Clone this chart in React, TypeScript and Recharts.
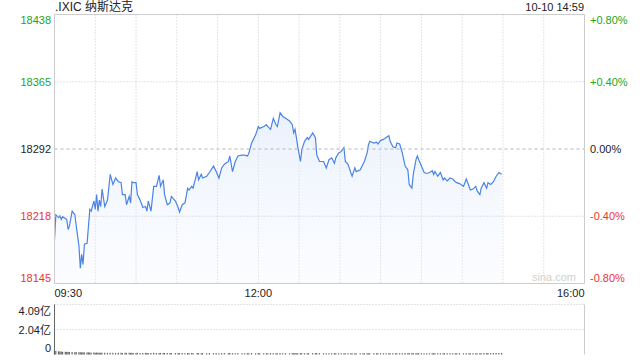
import React from 'react';
import {
  ComposedChart, Area, XAxis, YAxis, CartesianGrid, ReferenceLine,
  BarChart, Bar,
} from 'recharts';

// minutes after 09:30
const TIMES = [
  0, 1, 3, 4, 5, 6, 8, 9, 10, 11, 13, 15, 16, 18, 19, 20, 21, 22, 24, 25,
  26, 27, 29, 30, 31, 32, 33, 34, 35, 37, 39, 41, 43, 45, 47, 49, 50, 52, 53, 55,
  56, 57, 58, 60, 61, 63, 65, 67, 68, 69, 71, 73, 75, 77, 78, 80, 81, 83, 85, 86,
  89, 91, 92, 94, 96, 98, 99, 101, 102, 105, 106, 108, 109, 112, 114, 117, 119, 121, 123, 125,
  128, 129, 131, 133, 135, 138, 140, 142, 143, 145, 148, 150, 151, 154, 156, 157, 159, 161, 163, 164,
  166, 168, 170, 173, 175, 176, 177, 178, 179, 181, 182, 184, 186, 187, 190, 192, 193, 195, 198, 200,
  202, 204, 206, 207, 209, 211, 213, 214, 216, 218, 219, 221, 222, 225, 227, 228, 230, 231, 232, 235,
  237, 238, 240, 242, 244, 246, 247, 249, 251, 252, 254, 256, 258, 260, 261, 263, 264, 266, 267, 268,
  270, 272, 274, 276, 278, 279, 280, 282, 284, 286, 287, 289, 291, 293, 295, 296, 298, 301, 303, 305,
  306, 308, 310, 311, 313, 314, 316, 318, 319, 321, 323, 325, 327, 329,
];

const PRICES = [
  18193, 18220, 18217, 18219, 18215, 18218, 18216, 18215, 18204, 18208, 18224, 18220, 18208, 18186, 18162, 18177, 18166, 18188, 18189, 18208,
  18226, 18224, 18235, 18226, 18242, 18224, 18236, 18229, 18248, 18229, 18236, 18264, 18253, 18260, 18256, 18255, 18242, 18242, 18231, 18240,
  18233, 18256, 18255, 18255, 18242, 18236, 18228, 18229, 18224, 18235, 18224, 18251, 18251, 18263, 18251, 18258, 18242, 18231, 18233, 18240,
  18235, 18228, 18223, 18231, 18233, 18249, 18247, 18251, 18249, 18267, 18258, 18264, 18260, 18262, 18266, 18273, 18267, 18260, 18271, 18275,
  18278, 18284, 18267, 18278, 18284, 18285, 18285, 18284, 18287, 18298, 18307, 18316, 18314, 18316, 18318, 18316, 18313, 18325, 18318, 18316,
  18331, 18327, 18325, 18322, 18318, 18309, 18313, 18304, 18294, 18278, 18291, 18300, 18304, 18302, 18309, 18304, 18285, 18278, 18278, 18271,
  18280, 18282, 18276, 18282, 18287, 18289, 18293, 18278, 18275, 18266, 18262, 18271, 18267, 18269, 18275, 18278, 18287, 18296, 18300, 18298,
  18299, 18297, 18301, 18302, 18304, 18306, 18300, 18294, 18293, 18298, 18297, 18287, 18273, 18269, 18253, 18249, 18264, 18280, 18284, 18280,
  18273, 18266, 18265, 18266, 18268, 18264, 18267, 18262, 18266, 18258, 18260, 18257, 18260, 18259, 18256, 18255, 18254, 18251, 18259, 18251,
  18247, 18248, 18251, 18246, 18242, 18249, 18255, 18249, 18255, 18253, 18256, 18262, 18266, 18264,
];

// 亿
const VOLUMES = [
  0.36, 0.28, 0.26, 0.24, 0.25, 0.22, 0.23, 0.21, 0.22, 0.2, 0.21, 0.19, 0.2, 0.18, 0.19, 0.17, 0.18, 0.17, 0.16, 0.17,
  0.16, 0.15, 0.16, 0.15, 0.16, 0.15, 0.14, 0.15, 0.14, 0.15, 0.14, 0.15, 0.14, 0.13, 0.14, 0.14, 0.13, 0.14, 0.13, 0.14,
  0.13, 0.14, 0.13, 0.13, 0.14, 0.13, 0.12, 0.13, 0.13, 0.12, 0.13, 0.14, 0.13, 0.12, 0.13, 0.12, 0.13, 0.12, 0.12, 0.13,
  0.12, 0.13, 0.12, 0.12, 0.11, 0.12, 0.13, 0.12, 0.11, 0.12, 0.12, 0.11, 0.12, 0.11, 0.12, 0.11, 0.12, 0.11, 0.11, 0.12,
  0.11, 0.12, 0.11, 0.11, 0.12, 0.11, 0.1, 0.11, 0.11, 0.12, 0.11, 0.12, 0.11, 0.11, 0.1, 0.11, 0.12, 0.11, 0.11, 0.1,
  0.12, 0.11, 0.11, 0.1, 0.11, 0.11, 0.12, 0.11, 0.1, 0.12, 0.11, 0.1, 0.11, 0.11, 0.1, 0.11, 0.12, 0.11, 0.1, 0.11,
  0.1, 0.11, 0.1, 0.11, 0.1, 0.11, 0.1, 0.11, 0.1, 0.11, 0.11, 0.1, 0.11, 0.1, 0.1, 0.11, 0.1, 0.11, 0.1, 0.1,
  0.11, 0.1, 0.1, 0.11, 0.1, 0.1, 0.11, 0.1, 0.1, 0.11, 0.1, 0.11, 0.12, 0.11, 0.12, 0.11, 0.12, 0.11, 0.1, 0.11,
  0.1, 0.11, 0.1, 0.1, 0.11, 0.1, 0.1, 0.11, 0.1, 0.1, 0.11, 0.1, 0.1, 0.11, 0.1, 0.1, 0.11, 0.1, 0.11, 0.1,
  0.11, 0.1, 0.11, 0.1, 0.11, 0.11, 0.12, 0.11, 0.12, 0.11, 0.12, 0.12, 0.13, 0.13,
];

const PREV_CLOSE = 18291.6;
const PCTS = [0.008, 0.004, 0, -0.004, -0.008];
const PRICE_LABELS = ['18438', '18365', '18292', '18218', '18145'];
const PCT_LABELS = ['+0.80%', '+0.40%', '0.00%', '-0.40%', '-0.80%'];

const X_TICKS = [0, 30, 60, 90, 120, 150, 180, 210, 240, 270, 300, 330, 360, 390];
const X_LABELS: Record<number, string> = { 0: '09:30', 150: '12:00', 390: '16:00' };

const VOL_MAX = 4.09;
const VOL_TICKS = [0, 2.04, 4.09];
const VOL_LABELS = ['0', '2.04亿', '4.09亿'];

const TITLE = '.IXIC 纳斯达克';
const STAMP = '10-10 14:59';

const UP = '#22a622';
const DOWN = '#f03232';
const FONT = '"Liberation Sans", Arial, "Noto Sans CJK SC", sans-serif';

const Y_TICKS = PCTS.map((p) => PREV_CLOSE * (1 + p));
const Y_MIN = PREV_CLOSE * (1 - 0.008);
const Y_MAX = PREV_CLOSE * (1 + 0.008);

const data = TIMES.map((t, i) => ({ t, price: PRICES[i], vol: VOLUMES[i] }));

const pctColor = (p: number) => (p > 0 ? UP : p < 0 ? DOWN : '#222');

const PriceTick = (props: any) => {
  const { y, payload } = props;
  const i = Y_TICKS.findIndex((v) => Math.abs(v - payload.value) < 0.01);
  if (i < 0) return null;
  const shift = i === 0 ? 6 : i === PCTS.length - 1 ? -5 : 0;
  const color = pctColor(PCTS[i]);
  return (
    <g>
      <text x={51} y={y + shift} dy="0.35em" textAnchor="end" fill={color} fontSize={11} fontFamily={FONT}>
        {PRICE_LABELS[i]}
      </text>
      <text x={590} y={y + shift} dy="0.35em" textAnchor="start" fill={color} fontSize={11} fontFamily={FONT}>
        {PCT_LABELS[i]}
      </text>
    </g>
  );
};

const TimeTick = (props: any) => {
  const { x, payload } = props;
  const label = X_LABELS[payload.value];
  if (!label) return null;
  const anchor = payload.value === 0 ? 'start' : payload.value === 390 ? 'end' : 'middle';
  return (
    <text x={x} y={293} dy="0.35em" textAnchor={anchor} fill="#222" fontSize={11} fontFamily={FONT}>
      {label}
    </text>
  );
};

const VolTick = (props: any) => {
  const { y, payload } = props;
  const i = VOL_TICKS.indexOf(payload.value);
  if (i < 0) return null;
  const shift = i === VOL_TICKS.length - 1 ? 7 : i === 0 ? -6 : 1;
  return (
    <text x={51} y={y + shift} dy="0.35em" textAnchor="end" fill="#222" fontSize={11} fontFamily={FONT}>
      {VOL_LABELS[i]}
    </text>
  );
};

export default function App() {
  return (
    <div style={{ position: 'absolute', left: 0, top: 0, width: 640, height: 360, background: '#fff', fontFamily: FONT }}>
      <div style={{ position: 'absolute', left: 55, top: 0, fontSize: 12, lineHeight: '15px', color: '#222' }}>{TITLE}</div>
      <div style={{ position: 'absolute', right: 56, top: 0, fontSize: 11, lineHeight: '15px', color: '#222' }}>{STAMP}</div>

      <div style={{ position: 'absolute', left: 0, top: 0 }}>
        <ComposedChart width={640} height={300} data={data} margin={{ top: 14.5, right: 55.5, bottom: 0, left: 0 }}>
          <defs>
            <linearGradient id="areaFill" x1="0" y1="0" x2="0" y2="1">
              <stop offset="0%" stopColor="#d6e4fa" stopOpacity={0.85} />
              <stop offset="100%" stopColor="#eef3fd" stopOpacity={0.35} />
            </linearGradient>
          </defs>
          <CartesianGrid horizontal={false} strokeDasharray="1 2" stroke="#c8c8c8" />
          <XAxis
            type="number"
            dataKey="t"
            domain={[0, 390]}
            ticks={X_TICKS}
            interval={0}
            height={16.5}
            tickLine={false}
            axisLine={{ stroke: '#ccc' }}
            tick={<TimeTick />}
          />
          <YAxis
            type="number"
            domain={[Y_MIN, Y_MAX]}
            ticks={Y_TICKS}
            interval={0}
            width={54.5}
            tickLine={false}
            axisLine={{ stroke: '#ccc' }}
            tick={<PriceTick />}
            allowDataOverflow
          />
          <ReferenceLine y={Y_TICKS[1]} stroke="#c8c8c8" strokeDasharray="1 2" />
          <ReferenceLine y={Y_TICKS[3]} stroke="#c8c8c8" strokeDasharray="1 2" />
          <ReferenceLine y={PREV_CLOSE} stroke="#b4b4b4" strokeDasharray="3 3" />
          <Area
            type="linear"
            dataKey="price"
            stroke="#4a84e6"
            strokeWidth={1.2}
            fill="url(#areaFill)"
            baseValue={Y_MIN}
            dot={false}
            activeDot={false}
            isAnimationActive={false}
          />
          <ReferenceLine y={Y_MAX} stroke="#ccc" />
          <ReferenceLine x={390} stroke="#ccc" />
        </ComposedChart>
      </div>

      <div style={{ position: 'absolute', left: 532, top: 270, fontSize: 11, lineHeight: '14px', color: '#d0d0d0' }}>sina.com</div>

      <div style={{ position: 'absolute', left: 0, top: 300 }}>
        <BarChart width={640} height={60} data={data} margin={{ top: 4.5, right: 55.5, bottom: 5.5, left: 0 }}>
          <XAxis type="number" dataKey="t" domain={[0, 390]} hide />
          <YAxis
            type="number"
            domain={[0, VOL_MAX]}
            ticks={VOL_TICKS}
            interval={0}
            width={54.5}
            tickLine={false}
            axisLine={{ stroke: '#666' }}
            tick={<VolTick />}
          />
          <ReferenceLine y={VOL_TICKS[1]} stroke="#c8c8c8" strokeDasharray="1 2" />
          <ReferenceLine y={VOL_TICKS[2]} stroke="#c8c8c8" strokeDasharray="1 2" />
          <ReferenceLine x={390} stroke="#ccc" />
          <Bar dataKey="vol" fill="#666" barSize={2} isAnimationActive={false} />
        </BarChart>
      </div>
    </div>
  );
}
